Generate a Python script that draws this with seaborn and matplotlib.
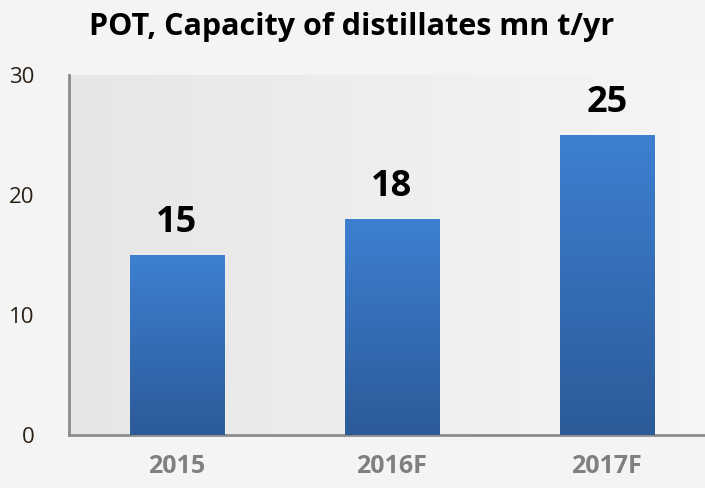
import numpy as np
import pandas as pd
import matplotlib
matplotlib.use("Agg")
import matplotlib.pyplot as plt
import seaborn as sns
from matplotlib.colors import LinearSegmentedColormap

years = ["2015", "2016F", "2017F"]
capacity = [15, 18, 25]
y_ticks = [0, 10, 20, 30]

sns.set_theme(style="white")
plt.rcParams["font.family"] = ["Open Sans", "DejaVu Sans"]

df = pd.DataFrame({"year": years, "capacity": capacity})

fig = plt.figure(figsize=(7.05, 4.88), dpi=100, facecolor="#f4f4f4")
ax = fig.add_axes([69 / 705, 53 / 488, 645.5 / 705, 360 / 488])
ax.set_facecolor("#f4f4f4")

sns.barplot(data=df, x="year", y="capacity", color="#3a77c4", width=0.437, ax=ax, zorder=2)

# background gradient (left grey -> right lighter)
bg = LinearSegmentedColormap.from_list("bg", ["#e6e6e6", "#f6f6f6"])
ax.imshow(np.linspace(0, 1, 256).reshape(1, -1), cmap=bg, aspect="auto",
          extent=[0, 1, 0, 1], transform=ax.transAxes, zorder=0)

# bar gradient (top lighter blue -> bottom darker)
bar_cmap = LinearSegmentedColormap.from_list("bar", ["#2c5a99", "#3d80d1"])
grad = np.linspace(0, 1, 256).reshape(-1, 1)
for patch in ax.patches:
    x0, y0 = patch.get_x(), patch.get_y()
    w, h = patch.get_width(), patch.get_height()
    im = ax.imshow(grad, cmap=bar_cmap, aspect="auto", origin="lower",
                   extent=[x0, x0 + w, y0, y0 + h], zorder=3)
    im.set_clip_path(patch)
    ax.text(x0 + w / 2, y0 + h + 2.7, f"{h:.0f}", ha="center", va="center",
            fontsize=26, fontweight="bold", color="black", zorder=4)

ax.set_xlim(-0.5, 2.5)
ax.set_ylim(0, 30)
ax.set_yticks(y_ticks)
ax.set_yticklabels([str(t) for t in y_ticks], fontsize=16, color="#2a2118")
ax.tick_params(axis="y", pad=25, length=0)
ax.tick_params(axis="x", pad=14, length=0)
for lbl in ax.get_xticklabels():
    lbl.set_fontsize(18)
    lbl.set_fontweight("bold")
    lbl.set_color("#808080")
ax.set_xlabel("")
ax.set_ylabel("")

for side in ["top", "right"]:
    ax.spines[side].set_visible(False)
for side in ["left", "bottom"]:
    ax.spines[side].set_color("#8c8c8c")
    ax.spines[side].set_linewidth(2)

fig.text(352 / 705, 1 - 27 / 488, "POT, Capacity of distillates mn t/yr",
         ha="center", va="center", fontsize=22, fontweight="bold", color="black")

fig.savefig("out.png", dpi=100, facecolor=fig.get_facecolor())
